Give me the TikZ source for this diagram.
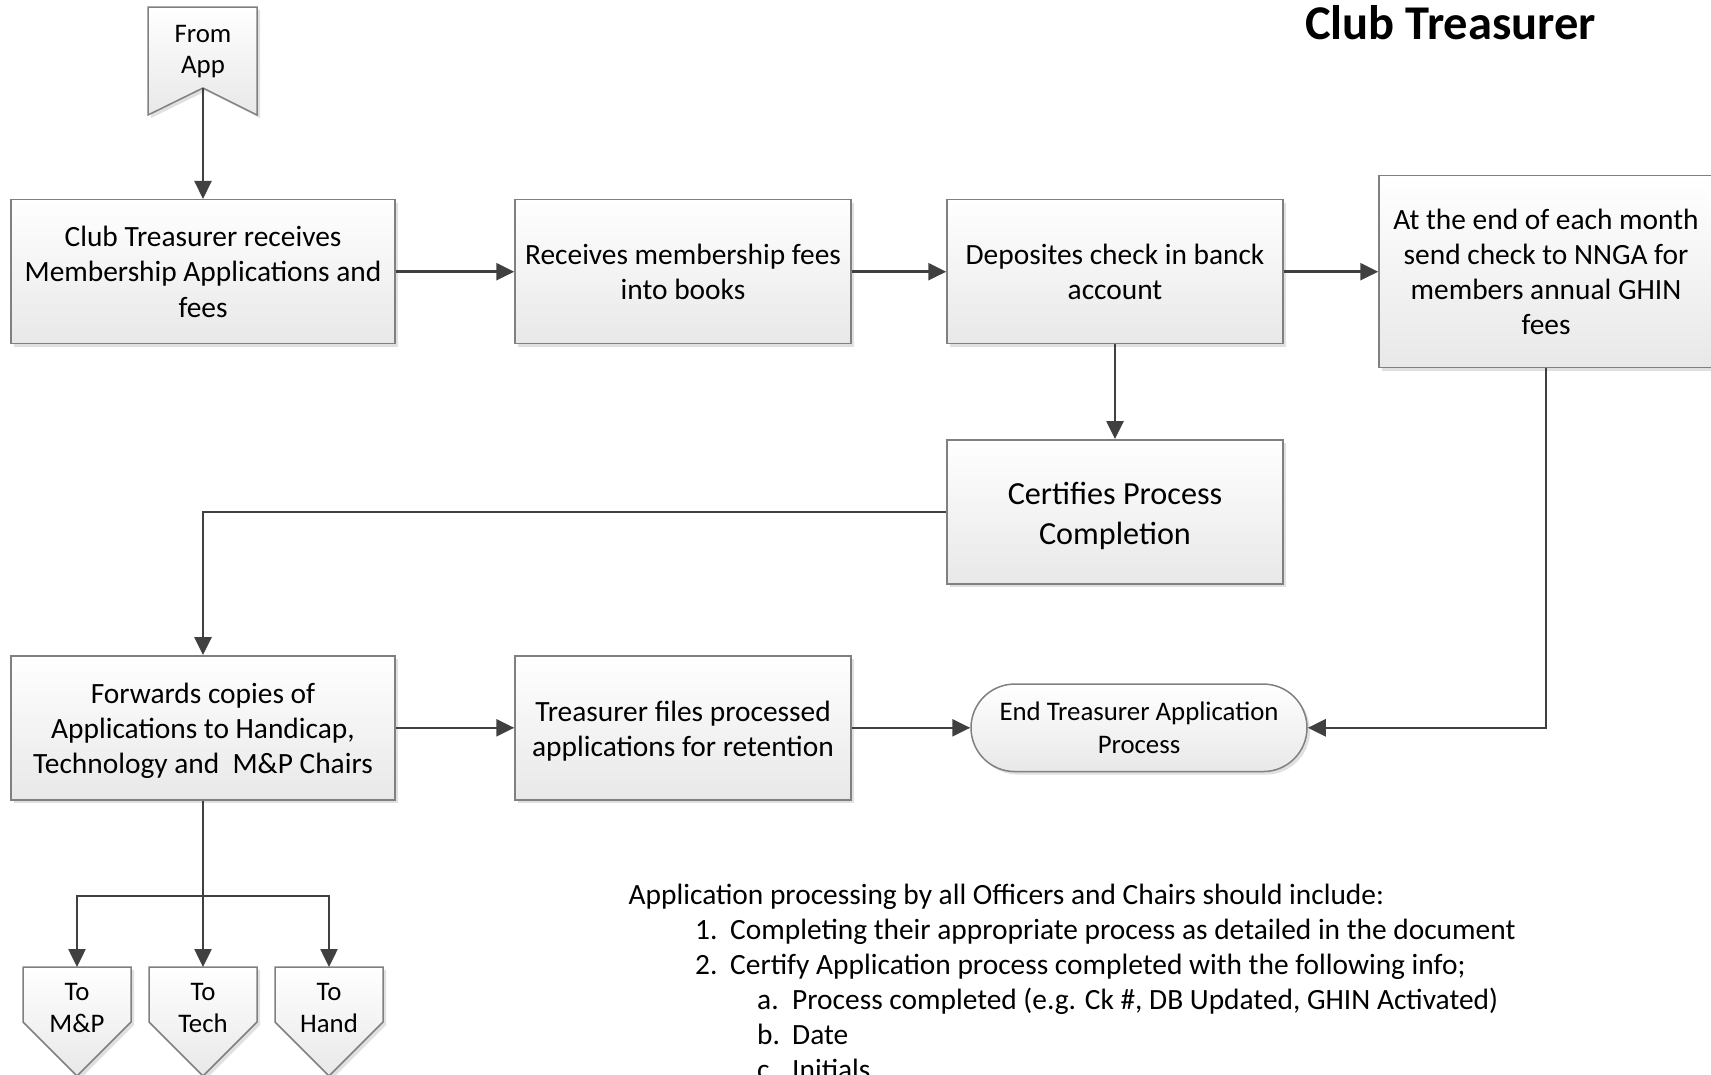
\documentclass[tikz,border=0pt]{standalone}
\usepackage{fontspec}
\setmainfont{Carlito}
\usetikzlibrary{arrows.meta,shapes.misc,shadows}

\tikzset{
  procbox/.style={draw=black!50, line width=1.5pt, top color=white, bottom color=black!9,
    drop shadow={shadow xshift=3pt, shadow yshift=-3pt, fill=black!30, opacity=0.4},
    minimum width=336pt, minimum height=144pt, align=center, inner sep=0pt,
    font=\fontsize{29.4}{35.2}\selectfont},
  endbox/.style={procbox, rounded rectangle, minimum height=87.5pt,
    font=\fontsize{26.8}{32.5}\selectfont},
  pageshape/.style={draw=black!50, line width=1.5pt, top color=white, bottom color=black!9,
    drop shadow={shadow xshift=3pt, shadow yshift=-3pt, fill=black!30, opacity=0.4}},
  pagetext/.style={align=center, inner sep=0pt, font=\fontsize{26.8}{31.5}\selectfont},
  flow/.style={draw=black!75, line width=2.5pt, -{Triangle[length=18pt,width=17pt]}},
  note/.style={anchor=base west, inner sep=0pt, font=\fontsize{29.4}{35}\selectfont}
}

\begin{document}
\begin{tikzpicture}[x=1pt,y=-1pt]
  \useasboundingbox (0,0) rectangle (1711,1074);

  \node[font={\fontsize{48.5}{58}\selectfont\bfseries}, anchor=base, inner sep=0pt] (title) at (1450.5,39.5) {Club Treasurer};

  % off-page connectors
  \path[pageshape] (148,7) -- (257,7) -- (257,115) -- (203,88) -- (148,115) -- cycle;
  \node[pagetext] (fromapp) at (203,51.5) {From\\App};
  \coordinate (appnotch) at (203,88);

  \path[pageshape] (23,967) -- (131,967) -- (131,1022) -- (77,1076) -- (23,1022) -- cycle;
  \path[pageshape] (149,967) -- (257,967) -- (257,1022) -- (203,1076) -- (149,1022) -- cycle;
  \path[pageshape] (275,967) -- (383,967) -- (383,1022) -- (329,1076) -- (275,1022) -- cycle;
  \node[pagetext] (tomp) at (77,1008) {To\\M\&P};
  \node[pagetext] (totech) at (203,1008) {To\\Tech};
  \node[pagetext] (tohand) at (329,1008) {To\\Hand};
  \coordinate (tomptop) at (77,967);
  \coordinate (totechtop) at (203,967);
  \coordinate (tohandtop) at (329,967);

  % process boxes
  \node[procbox, minimum width=384pt] (receive) at (203,271.7) {Club Treasurer receives\\Membership Applications and\\fees};
  \node[procbox] (books) at (683,271.7) {Receives membership fees\\into books};
  \node[procbox] (deposit) at (1115,271.7) {Deposites check in banck\\account};
  \node[procbox, minimum width=334pt, minimum height=192pt] (nnga) at (1546,271.7) {At the end of each month\\send check to NNGA for\\members annual GHIN\\fees};
  \node[procbox, font=\fontsize{32.2}{39.3}\selectfont] (certify) at (1115,511.8) {\rule{0pt}{0.95em}Certifies Process\\Completion};
  \node[procbox, minimum width=384pt] (forward) at (203,727.8) {\rule{0pt}{0.9em}Forwards copies of\\Applications to Handicap,\\Technology and \ M\&P Chairs};
  \node[procbox] (files) at (683,727.8) {\rule{0pt}{0.9em}Treasurer files processed\\applications for retention};
  \node[endbox] (endproc) at (1139,727.8) {End Treasurer Application\\Process};

  \coordinate (split) at (203,896);

  % connectors
  \draw[flow] (appnotch) -- (receive);
  \draw[flow] (receive) -- (books);
  \draw[flow] (books) -- (deposit);
  \draw[flow] (deposit) -- (nnga);
  \draw[flow] (deposit) -- (certify);
  \draw[flow] (certify.west) -| (forward.north);
  \draw[flow] (nnga.south) |- (endproc.east);
  \draw[flow] (forward) -- (files);
  \draw[flow] (files) -- (endproc);
  \draw[flow] (forward.south) -- (totechtop);
  \draw[flow] (split) -| (tomptop);
  \draw[flow] (split) -| (tohandtop);

  % notes
  \node[note] (note0) at (628.5,904.9) {Application processing by all Officers and Chairs should include:};
  \node[note] (item1) at (695,939.8) {1.};
  \node[note] (item1t) at (730,939.8) {Completing their appropriate process as detailed in the document};
  \node[note] (item2) at (695,974.7) {2.};
  \node[note] (item2t) at (730,974.7) {Certify Application process completed with the following info;};
  \node[note] (itema) at (757,1009.6) {a.};
  \node[note] (itemat) at (792,1009.6) {Process completed (e.g. Ck \#, DB Updated, GHIN Activated)};
  \node[note] (itemb) at (757,1044.5) {b.};
  \node[note] (itembt) at (792,1044.5) {Date};
  \node[note] (itemc) at (757,1079.4) {c.};
  \node[note] (itemct) at (792,1079.4) {Initials};
\end{tikzpicture}
\end{document}
